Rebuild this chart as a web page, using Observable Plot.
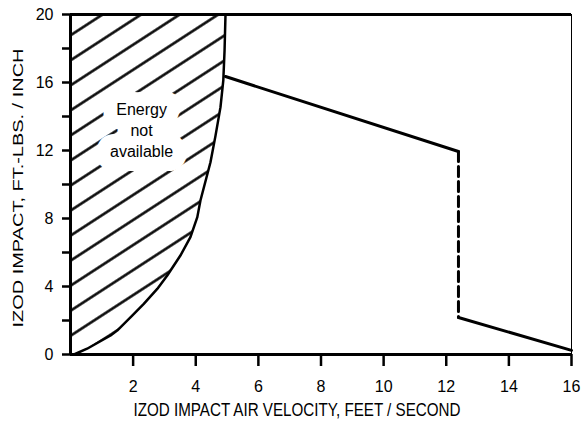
<!DOCTYPE html>
<html><head><meta charset="utf-8">
<script src="https://cdn.jsdelivr.net/npm/d3@7"></script>
<script src="https://cdn.jsdelivr.net/npm/@observablehq/plot@0.6"></script>
<style>body{margin:0;background:#fff;}</style>
</head><body><div id="chart"></div>
<script>
const xDomain = [0, 16];
const yDomain = [0, 20];
const xTicks = [2, 4, 6, 8, 10, 12, 14, 16];
const yTicks = [0, 2, 4, 6, 8, 10, 12, 14, 16, 18, 20];
const yLabelStep = 4;

// Boundary of the "energy not available" region
const boundaryX = [0.11, 0.53, 1.28, 1.49, 1.97, 2.34, 2.77, 3.09, 3.51, 3.83, 4.05, 4.15, 4.47, 4.63, 4.79, 4.88, 4.92, 4.95];
const boundaryY = [0, 0.34, 1.12, 1.41, 2.29, 2.98, 3.86, 4.65, 5.82, 6.9, 8.08, 9.06, 11.31, 12.86, 14.55, 16.12, 17.88, 20];

// Impact curve segments
const upperX = [4.95, 12.39];
const upperY = [16.35, 11.94];
const dropX = [12.39, 12.39];
const dropY = [11.94, 2.18];
const lowerX = [12.39, 16];
const lowerY = [2.18, 0.24];

const noteText = ["Energy\nnot\navailable"];
const noteX = [2.27];
const noteY = [13.24];

const xTitle = "IZOD IMPACT AIR VELOCITY, FEET / SECOND";
const yTitle = "IZOD IMPACT, FT.-LBS. / INCH";

const zip = (xs, ys) => xs.map((x, i) => ({x, y: ys[i]}));
const boundary = zip(boundaryX, boundaryY);
const upper = zip(upperX, upperY);
const drop = zip(dropX, dropY);
const lower = zip(lowerX, lowerY);
const note = noteText.map((t, i) => ({text: t, x: noteX[i], y: noteY[i]}));

const chart = Plot.plot({
  width: 583, height: 426,
  marginTop: 14, marginLeft: 70, marginRight: 12, marginBottom: 72,
  style: {fontFamily: "'Liberation Sans', Arial, sans-serif", fontSize: "15px", color: "#000", background: "#fff"},
  x: {domain: xDomain},
  y: {domain: yDomain},
  marks: [
    Plot.areaX(boundary, {y: "y", x1: xDomain[0], x2: "x", fill: "url(#hatch)"}),
    // white knock-out behind the note
    Plot.text(note, {x: "x", y: "y", text: "text", fontSize: 16, lineHeight: 1.3, fill: "white",
      stroke: "white", strokeWidth: 28, strokeLinejoin: "round"}),
    Plot.text(note, {x: "x", y: "y", text: "text", fontSize: 16, lineHeight: 1.3, fill: "black"}),
    Plot.line(boundary, {x: "x", y: "y", stroke: "black", strokeWidth: 2.5}),
    Plot.line(upper, {x: "x", y: "y", stroke: "black", strokeWidth: 3}),
    Plot.line(drop, {x: "x", y: "y", stroke: "black", strokeWidth: 3, strokeDasharray: "10,5"}),
    Plot.line(lower, {x: "x", y: "y", stroke: "black", strokeWidth: 3}),
    Plot.ruleX([xDomain[0]], {stroke: "black", strokeWidth: 3}),
    Plot.ruleX([xDomain[1]], {stroke: "black", strokeWidth: 1}),
    Plot.ruleY([yDomain[0]], {stroke: "black", strokeWidth: 3}),
    Plot.ruleY([yDomain[1]], {stroke: "black", strokeWidth: 3}),
    Plot.axisX({ticks: xTicks, tickSize: 12, tickPadding: 14, strokeWidth: 2.5, label: null, fontSize: 16}),
    Plot.axisY({ticks: yTicks, tickSize: 8, tickPadding: 9, strokeWidth: 2.5, label: null, fontSize: 16,
      tickFormat: d => d % yLabelStep === 0 ? String(d) : ""}),
    Plot.text([xTitle], {text: d => d, frameAnchor: "bottom", dy: 61, dx: -24, fontSize: 18,
      fontFamily: "'Liberation Sans Narrow', 'Liberation Sans', Arial, sans-serif"}),
    Plot.text([yTitle], {text: d => d, frameAnchor: "left", textAnchor: "middle", rotate: -90, dx: -52, dy: 3.5, fontSize: 15})
  ]
});

const svg = chart.tagName.toLowerCase() === "svg" ? chart : chart.querySelector("svg");
const h = 21;
const defs = d3.create("svg:defs");
const pat = defs.append("pattern")
  .attr("id", "hatch")
  .attr("patternUnits", "userSpaceOnUse")
  .attr("width", 20).attr("height", h)
  .attr("patternTransform", `translate(71,35) rotate(-33) translate(0,${-h / 2})`);
pat.append("line").attr("x1", 0).attr("x2", 20).attr("y1", h / 2).attr("y2", h / 2)
  .attr("stroke", "black").attr("stroke-width", 2.5);
svg.insertBefore(defs.node(), svg.firstChild);

svg.querySelectorAll("text").forEach(t => {
  if (t.textContent === xTitle) { t.setAttribute("textLength", 327); t.setAttribute("lengthAdjust", "spacingAndGlyphs"); }
  if (t.textContent === yTitle) { t.setAttribute("textLength", 279); t.setAttribute("lengthAdjust", "spacingAndGlyphs"); }
});

document.getElementById("chart").appendChild(chart);
</script>
</body></html>
